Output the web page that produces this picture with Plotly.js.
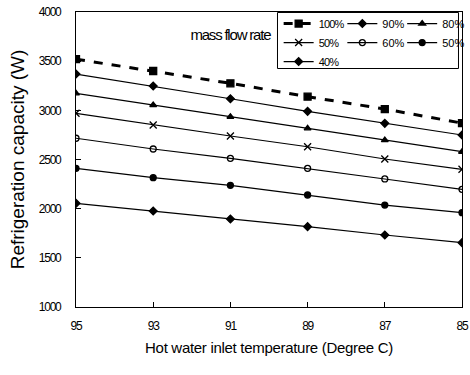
<!DOCTYPE html>
<html><head><meta charset="utf-8">
<script src="https://cdn.plot.ly/plotly-3.0.1.min.js"></script>
<style>
html,body{margin:0;padding:0;background:#fff}#c{width:470px;height:375px}
#c .xtick text, #c .ytick text{letter-spacing:-1.2px}
#c .legendtext{letter-spacing:-0.8px}
#c .annotation-text{letter-spacing:-1.2px}
#c .xtitle{letter-spacing:-0.3px}
#c .infolayer rect.bg, #c .infolayer rect.legendtoggle, #c .infolayer rect.scrollbar{fill:none !important;fill-opacity:0 !important;stroke:none !important}
</style>
</head><body><div id="c"></div>
<script>
var temps = [95, 93, 91, 89, 87, 85];
var tickLabels = ['95', '93', '91', '89', '87', '85'];
var names = ['100%', '90%', '80%', '50%', '60%', '50%', '40%'];
var s100 = [3520, 3400, 3275, 3139, 3013, 2870];
var s90 = [3369, 3247, 3118, 2990, 2868, 2749];
var s80 = [3173, 3054, 2935, 2817, 2698, 2579];
var s70 = [2970, 2851, 2739, 2630, 2505, 2400];
var s60 = [2716, 2607, 2512, 2410, 2302, 2197];
var s50 = [2410, 2315, 2237, 2139, 2037, 1959];
var s40 = [2054, 1976, 1895, 1817, 1732, 1654];
var series = [s100, s90, s80, s70, s60, s50, s40];
var symbols = ['square', 'diamond', 'triangle-up', 'x-thin-open', 'circle-open', 'circle', 'diamond'];
var sizes = [7, 6, 6, 7, 6, 6, 6];
var legendOf = ['legend', 'legend2', 'legend3', 'legend', 'legend2', 'legend3', 'legend'];
var traces = series.map(function (s, i) {
  return {
    x: temps, y: s, name: names[i], type: 'scatter', mode: 'lines+markers',
    legend: legendOf[i],
    line: {color: '#000', width: i === 0 ? 3 : 1.2, dash: i === 0 ? 'dash' : 'solid'},
    marker: {symbol: symbols[i], size: sizes[i], color: '#000', line: {color: '#000', width: 1.3}}
  };
});
var fnt = 'Liberation Sans, Arial, sans-serif';
function leg(x) {
  return {
    x: x, xanchor: 'left', y: 1.01, yanchor: 'top', orientation: 'v',
    bgcolor: 'rgba(0,0,0,0)', borderwidth: 0, itemwidth: 30, tracegroupgap: 0,
    font: {family: fnt, size: 11, color: '#000'}
  };
}
var layout = {
  width: 470, height: 375,
  margin: {l: 76, r: 8, t: 12, b: 68, autoexpand: false},
  paper_bgcolor: '#fff', plot_bgcolor: '#fff',
  showlegend: true,
  legend: leg(0.525),
  legend2: leg(0.69),
  legend3: leg(0.845),
  xaxis: {
    range: [95, 85], tickvals: temps, ticktext: tickLabels,
    showline: true, linecolor: '#000', linewidth: 1, mirror: true,
    ticks: 'inside', ticklen: 5, tickcolor: '#000', showgrid: false, zeroline: false,
    tickfont: {family: fnt, size: 12, color: '#000'},
    ticklabelstandoff: 8,
    title: {text: 'Hot water inlet temperature (Degree C)', font: {family: fnt, size: 15, color: '#000'}, standoff: 10}
  },
  yaxis: {
    range: [1000, 4000], dtick: 500,
    showline: true, linecolor: '#000', linewidth: 1, mirror: true,
    ticks: 'inside', ticklen: 5, tickcolor: '#000', showgrid: false, zeroline: false,
    tickfont: {family: fnt, size: 12, color: '#000'},
    ticklabelstandoff: 12,
    title: {text: 'Refrigeration capacity (W)', font: {family: fnt, size: 19, color: '#000'}, standoff: 4}
  },
  shapes: [{
    type: 'rect', xref: 'paper', yref: 'paper',
    x0: 0.52202, x1: 0.99093, y0: 0.80847, y1: 0.99831,
    layer: 'above', line: {color: '#000', width: 1}, fillcolor: 'rgba(0,0,0,0)'
  }],
  annotations: [{
    text: 'mass flow rate', xref: 'paper', yref: 'paper', x: 0.399, y: 0.925,
    xanchor: 'center', yanchor: 'middle', showarrow: false,
    font: {family: fnt, size: 15, color: '#000'}
  }]
};
Plotly.newPlot('c', traces, layout, {staticPlot: true, displayModeBar: false});
</script></body></html>
